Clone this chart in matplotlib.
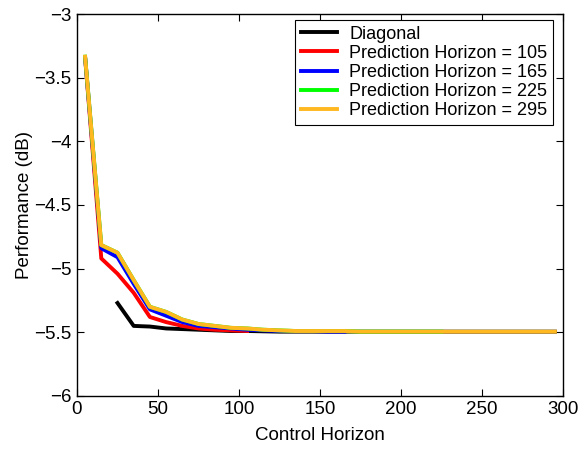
import matplotlib
matplotlib.use('Agg')
import matplotlib.pyplot as plt

plt.rcParams['font.family'] = ['Liberation Sans', 'DejaVu Sans']

# control horizon samples
ch_red = [5, 15, 25, 35, 45, 55, 65, 75, 85, 95, 105]
ch_blue = [5, 15, 25, 35, 45, 55, 65, 75, 85, 95, 105, 115, 125, 135, 145, 155, 165]
ch_green = [5, 15, 25, 35, 45, 55, 65, 75, 85, 95, 105, 115, 125, 135, 145, 155,
            165, 175, 185, 195, 205, 215, 225]
ch_orange = [5, 15, 25, 35, 45, 55, 65, 75, 85, 95, 105, 115, 125, 135, 145, 155,
             165, 175, 185, 195, 205, 215, 225, 235, 245, 255, 265, 275, 285, 295]
ch_diag = [25, 35, 45, 55, 65, 75, 85, 95, 105, 125, 150, 200, 250, 295]

perf_diag = [-5.27, -5.45, -5.455, -5.47, -5.475, -5.48, -5.485, -5.49, -5.49,
             -5.495, -5.495, -5.495, -5.495, -5.495]
perf_red = [-3.34, -4.92, -5.04, -5.19, -5.38, -5.42, -5.45, -5.47, -5.48, -5.485, -5.49]
perf_blue = [-3.34, -4.84, -4.91, -5.12, -5.32, -5.37, -5.42, -5.45, -5.46, -5.47, -5.48,
             -5.485, -5.49, -5.49, -5.49, -5.495, -5.495]
perf_green = [-3.335, -4.815, -4.875, -5.09, -5.30, -5.34, -5.40, -5.435, -5.45, -5.465,
              -5.47, -5.48, -5.485, -5.49, -5.49, -5.49, -5.49, -5.495, -5.495, -5.495,
              -5.495, -5.495, -5.495]
perf_orange = [-3.335, -4.815, -4.875, -5.09, -5.30, -5.34, -5.40, -5.435, -5.45, -5.465,
               -5.47, -5.48, -5.485, -5.49, -5.49, -5.49, -5.49, -5.495, -5.495, -5.495,
               -5.495, -5.495, -5.495, -5.495, -5.495, -5.495, -5.495, -5.495, -5.495, -5.495]

y_ticks = [-6, -5.5, -5, -4.5, -4, -3.5, -3]
y_labels = ['\u22126', '\u22125.5', '\u22125', '\u22124.5', '\u22124', '\u22123.5', '\u22123']

fig = plt.figure(figsize=(5.82, 4.53), dpi=100)
ax = fig.add_axes([0.1323, 0.126, 0.8351, 0.843])

lw = 2.8
ax.plot(ch_diag, perf_diag, color='black', lw=lw, label='Diagonal')
ax.plot(ch_red, perf_red, color='#ff0000', lw=lw, label='Prediction Horizon = 105')
ax.plot(ch_blue, perf_blue, color='#0000ff', lw=lw, label='Prediction Horizon = 165')
ax.plot(ch_green, perf_green, color='#00ff00', lw=lw, label='Prediction Horizon = 225')
ax.plot(ch_orange, perf_orange, color='#ffb820', lw=lw, label='Prediction Horizon = 295')

ax.set_xlim(0, 300)
ax.set_ylim(-6, -3)
ax.set_xticks(range(0, 301, 50))
ax.set_yticks(y_ticks)
ax.set_yticklabels(y_labels)
ax.tick_params(direction='in', length=5, width=0.8, top=True, right=True,
               labelsize=13.5, pad=4)
for s in ax.spines.values():
    s.set_linewidth(1.0)

ax.set_xlabel('Control Horizon', fontsize=13.5, labelpad=6)
ax.set_ylabel('Performance (dB)', fontsize=13.5, labelpad=1)

leg = ax.legend(loc='upper right', fontsize=13, handlelength=2.0, handletextpad=0.7,
                borderpad=0.3, labelspacing=0.12, fancybox=False, framealpha=1,
                edgecolor='black', borderaxespad=0, bbox_to_anchor=(0.9794, 0.984))
leg.get_frame().set_linewidth(0.8)

fig.savefig('out.png', dpi=100)
